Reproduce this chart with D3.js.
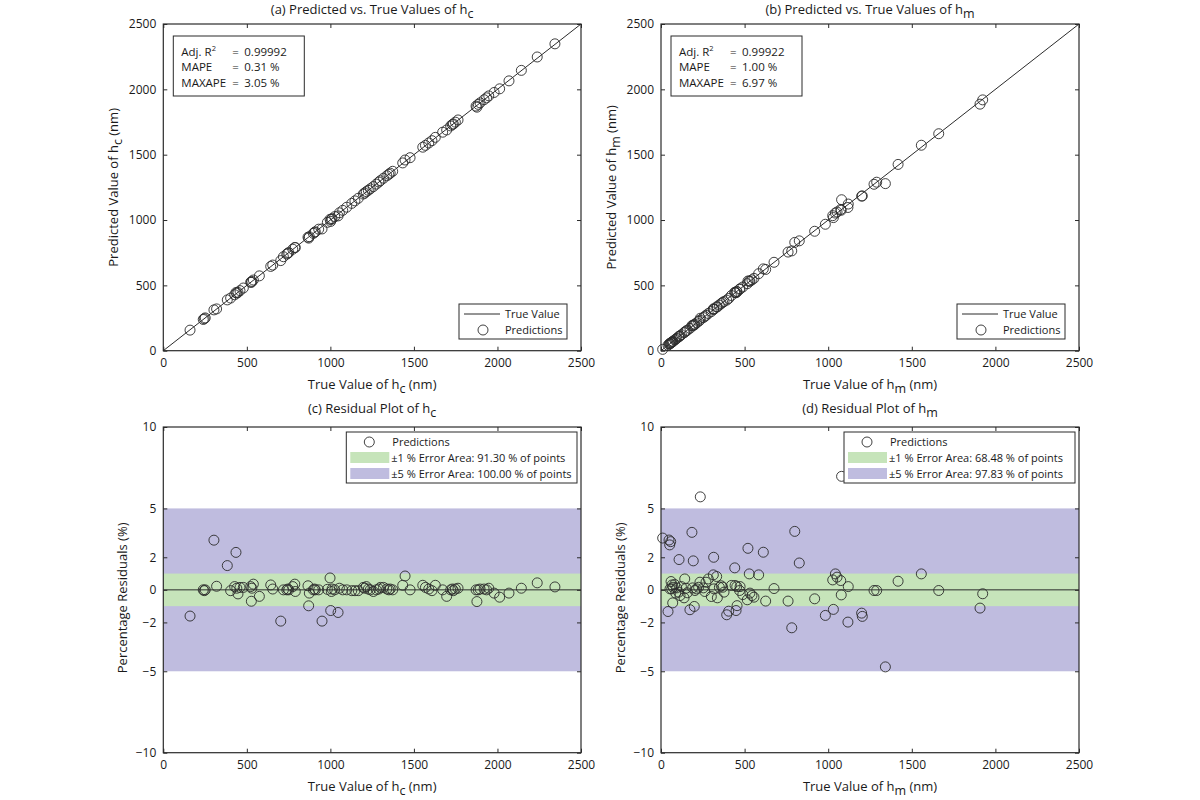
<!DOCTYPE html>
<html><head><meta charset="utf-8">
<script src="https://cdn.jsdelivr.net/npm/d3@7"></script>
<style>
body{margin:0;background:#fff}
text{font-family:'Open Sans',sans-serif;fill:#1a1a1a}
</style>
</head><body>
<svg id="chart" width="1200" height="800"></svg>
<script>
// ---------------- data ----------------
const axisTicks = [0, 500, 1000, 1500, 2000, 2500];
const residualTicks = [-10, -5, -2, 0, 2, 5, 10];

const trueHc = [160,239,245,251,303,319,383,403,427,435,440,447,459,479,523,527,530,539,575,643,655,703,719,739,745,751,775,787,790,866,870,874,898,905,910,930,950,982,998,1002,1006,1010,1026,1046,1054,1074,1098,1128,1147,1167,1197,1205,1215,1227,1239,1257,1275,1290,1299,1318,1338,1350,1358,1373,1433,1447,1477,1553,1569,1589,1608,1628,1672,1696,1720,1730,1736,1748,1764,1872,1877,1885,1896,1920,1935,1948,1980,2013,2069,2143,2238,2344];
const resHc = [-1.61,0.0,-0.05,0.0,3.05,0.22,1.49,-0.05,0.2,2.3,0.1,-0.25,0.15,0.15,0.2,-0.7,0.1,0.35,-0.4,0.3,0.05,-1.92,0.0,0.0,0.05,0.0,0.2,0.35,-0.1,0.25,-0.98,-0.2,0.0,0.05,0.0,0.0,-1.92,0.03,0.73,-1.27,-0.1,0.05,0.0,-1.39,0.1,0.0,0.0,-0.05,-0.05,-0.05,0.15,0.1,0.2,0.05,0.0,-0.1,0.0,0.05,0.15,0.15,0.05,0.0,0.05,0.0,0.28,0.85,0.0,0.28,0.15,0.05,-0.05,0.28,0.0,-0.4,0.0,0.05,-0.05,0.05,0.1,0.0,-0.72,0.0,0.05,0.05,0.0,0.1,-0.2,-0.45,-0.2,0.1,0.43,0.18];

const trueHm = [10,42,48,52,54,58,60,64,66,70,72,82,88,94,106,108,114,122,138,142,150,157,173,185,189,193,199,203,213,225,233,235,253,262,269,283,301,313,315,317,333,337,349,360,369,377,393,405,421,441,443,449,453,455,470,473,489,516,520,528,532,544,556,584,612,626,676,760,782,800,827,919,983,1027,1031,1043,1053,1075,1078,1080,1118,1120,1200,1204,1274,1290,1342,1418,1557,1661,1908,1924];
const resHm = [3.18,-1.33,3.06,2.76,0.06,2.96,0.51,0.06,0.3,-0.8,0.16,0.33,-0.2,0.12,-0.14,1.86,-0.35,0.2,-0.49,0.67,0.1,-0.18,-1.22,3.53,0.12,1.78,-1.02,-0.04,0.06,0.16,0.47,5.71,0.12,-0.1,0.47,0.67,-0.41,0.92,2.0,0.06,0.82,-0.49,0.16,0.25,0.16,-0.14,-1.53,-1.31,0.27,1.35,0.27,-1.27,0.2,-0.97,-0.04,0.2,-0.29,-0.61,2.55,0.98,-0.2,-0.35,-0.45,0.92,2.31,-0.69,0.08,-0.69,-2.33,3.59,1.65,-0.55,-1.57,0.61,-1.2,0.98,0.78,0.57,-0.31,6.97,-1.98,0.2,-1.43,-1.63,-0.04,-0.04,-4.73,0.53,0.98,-0.04,-1.12,-0.24];

const statLabels = ["Adj. R", "MAPE", "MAXAPE"];
const statsHc = ["0.99992", "0.31 %", "3.05 %"];
const statsHm = ["0.99922", "1.00 %", "6.97 %"];
const bandLabelsHc = ["\u00b11 % Error Area: 91.30 % of points", "\u00b15 % Error Area: 100.00 % of points"];
const bandLabelsHm = ["\u00b11 % Error Area: 68.48 % of points", "\u00b15 % Error Area: 97.83 % of points"];

// ---------------- drawing ----------------
const svg = d3.select("#chart");
const INK = "#2b2b2b";
const GREEN = "#c6e4ba";
const PURPLE = "#bfbcdf";

function subText(g, x, y, main, sub, rest, opts) {
  const t = g.append("text").attr("x", x).attr("y", y)
    .attr("text-anchor", opts.anchor || "middle")
    .style("font-size", opts.size + "px");
  if (opts.rotate) t.attr("transform", `rotate(-90,${x},${y})`);
  t.append("tspan").text(main);
  t.append("tspan").attr("dy", 4).style("font-size", (opts.size - 0.5) + "px").text(sub);
  t.append("tspan").attr("dy", -4).text(rest);
  return t;
}

function drawAxes(g, x, y, p, yTicks) {
  const fmt = d3.format("d");
  const bx = g.append("g").attr("transform", `translate(0,${p.b})`)
    .call(d3.axisBottom(x).tickValues(axisTicks).tickSizeInner(-4).tickSizeOuter(0).tickPadding(8).tickFormat(fmt));
  const tx = g.append("g").attr("transform", `translate(0,${p.t})`)
    .call(d3.axisTop(x).tickValues(axisTicks).tickSizeInner(-4).tickSizeOuter(0).tickFormat(""));
  const ly = g.append("g").attr("transform", `translate(${p.l},0)`)
    .call(d3.axisLeft(y).tickValues(yTicks).tickSizeInner(-4).tickSizeOuter(0).tickPadding(7).tickFormat(fmt));
  const ry = g.append("g").attr("transform", `translate(${p.r},0)`)
    .call(d3.axisRight(y).tickValues(yTicks).tickSizeInner(-4).tickSizeOuter(0).tickFormat(""));
  [bx, tx, ly, ry].forEach(a => {
    a.select(".domain").remove();
    a.selectAll(".tick line").attr("stroke", INK).attr("stroke-width", 1);
    a.selectAll(".tick text").style("font-size", "12px").style("font-family", "'Open Sans',sans-serif").attr("fill", "#1a1a1a");
  });
  g.append("rect").attr("x", p.l).attr("y", p.t).attr("width", p.r - p.l).attr("height", p.b - p.t)
    .attr("fill", "none").attr("stroke", INK).attr("stroke-width", 1.2);
}

function circles(g, xs, ys, x, y) {
  g.append("g").selectAll("circle").data(xs).join("circle")
    .attr("cx", d => x(d)).attr("cy", (d, i) => y(ys[i])).attr("r", 5)
    .attr("fill", "none").attr("stroke", INK).attr("stroke-width", 0.9);
}

function scatterPanel(p, trueV, resV, stats, letter, sub) {
  const g = svg.append("g");
  const x = d3.scaleLinear().domain([0, 2500]).range([p.l, p.r]);
  const y = d3.scaleLinear().domain([0, 2500]).range([p.b, p.t]);
  const pred = trueV.map((t, i) => t * (1 + resV[i] / 100));
  g.append("line").attr("x1", x(0)).attr("y1", y(0)).attr("x2", x(2500)).attr("y2", y(2500))
    .attr("stroke", INK).attr("stroke-width", 1);
  circles(g, trueV, pred, x, y);
  drawAxes(g, x, y, p, axisTicks);
  subText(g, (p.l + p.r) / 2, 14, `(${letter}) Predicted vs. True Values of h`, sub, "", {size: 13});
  subText(g, (p.l + p.r) / 2, 389, "True Value of h", sub, " (nm)", {size: 13});
  subText(g, p.l - 45, (p.t + p.b) / 2, "Predicted Value of h", sub, " (nm)", {size: 13, rotate: true});
  // stats box
  const sb = g.append("g");
  sb.append("rect").attr("x", p.l + 10).attr("y", 36).attr("width", 131).attr("height", 60)
    .attr("fill", "#fff").attr("stroke", INK).attr("stroke-width", 1);
  statLabels.forEach((lab, i) => {
    const yy = 55.5 + i * 15.8;
    const t = sb.append("text").attr("x", p.l + 18).attr("y", yy).style("font-size", "11.5px").text(lab);
    if (i === 0) t.append("tspan").attr("dy", -5).style("font-size", "7.5px").text("2");
    sb.append("text").attr("x", p.l + 69).attr("y", yy).style("font-size", "11.5px").text("=");
    sb.append("text").attr("x", p.l + 81).attr("y", yy).style("font-size", "11.5px").text(stats[i]);
  });
  // legend
  const lg = g.append("g");
  const lx = p.r - 122, ly = 304;
  lg.append("rect").attr("x", lx).attr("y", ly).attr("width", 108).attr("height", 35)
    .attr("fill", "#fff").attr("stroke", INK).attr("stroke-width", 1);
  lg.append("line").attr("x1", lx + 5).attr("x2", lx + 41).attr("y1", ly + 10).attr("y2", ly + 10)
    .attr("stroke", INK).attr("stroke-width", 1);
  lg.append("text").attr("x", lx + 46).attr("y", ly + 14).style("font-size", "11px").text("True Value");
  lg.append("circle").attr("cx", lx + 24).attr("cy", ly + 26).attr("r", 5)
    .attr("fill", "none").attr("stroke", INK).attr("stroke-width", 0.9);
  lg.append("text").attr("x", lx + 46).attr("y", ly + 30).style("font-size", "11px").text("Predictions");
}

function residualPanel(p, trueV, resV, bandLabels, letter, sub) {
  const g = svg.append("g");
  const x = d3.scaleLinear().domain([0, 2500]).range([p.l, p.r]);
  const y = d3.scaleLinear().domain([-10, 10]).range([p.b, p.t]);
  g.append("rect").attr("x", p.l).attr("width", p.r - p.l).attr("y", y(5)).attr("height", y(-5) - y(5)).attr("fill", PURPLE);
  g.append("rect").attr("x", p.l).attr("width", p.r - p.l).attr("y", y(1)).attr("height", y(-1) - y(1)).attr("fill", GREEN);
  g.append("line").attr("x1", x(0)).attr("x2", x(2500)).attr("y1", y(0)).attr("y2", y(0))
    .attr("stroke", INK).attr("stroke-width", 1);
  circles(g, trueV, resV, x, y);
  drawAxes(g, x, y, p, residualTicks);
  subText(g, (p.l + p.r) / 2, 413, `(${letter})  Residual Plot of h`, sub, "", {size: 13});
  subText(g, (p.l + p.r) / 2, 791, "True Value of h", sub, " (nm)", {size: 13});
  const cy = (p.t + p.b) / 2 + 8;
  g.append("text").attr("x", p.l - 36).attr("y", cy).attr("text-anchor", "middle")
    .attr("transform", `rotate(-90,${p.l - 36},${cy})`).style("font-size", "13px")
    .text("Percentage Residuals (%)");
  // legend
  const lg = g.append("g");
  const lx = p.l + 183, ly = 432, w = p.r - 4 - lx;
  lg.append("rect").attr("x", lx).attr("y", ly).attr("width", w).attr("height", 51)
    .attr("fill", "#fff").attr("stroke", INK).attr("stroke-width", 1);
  lg.append("circle").attr("cx", lx + 23).attr("cy", ly + 10).attr("r", 5)
    .attr("fill", "none").attr("stroke", INK).attr("stroke-width", 0.9);
  lg.append("text").attr("x", lx + 46).attr("y", ly + 14).style("font-size", "11px").text("Predictions");
  lg.append("rect").attr("x", lx + 4).attr("y", ly + 20).attr("width", 39).attr("height", 11).attr("fill", GREEN);
  lg.append("rect").attr("x", lx + 4).attr("y", ly + 36).attr("width", 39).attr("height", 11).attr("fill", PURPLE);
  bandLabels.forEach((t, i) => {
    lg.append("text").attr("x", lx + 45).attr("y", ly + 30 + i * 15.5).style("font-size", "11px").text(t);
  });
}

const PA = {l: 163.3, r: 581, t: 24, b: 350.7};
const PB = {l: 661, r: 1079, t: 24, b: 350.7};
const PC = {l: 163.3, r: 581, t: 427, b: 752.7};
const PD = {l: 661, r: 1079, t: 427, b: 752.7};

scatterPanel(PA, trueHc, resHc, statsHc, "a", "c");
scatterPanel(PB, trueHm, resHm, statsHm, "b", "m");
residualPanel(PC, trueHc, resHc, bandLabelsHc, "c", "c");
residualPanel(PD, trueHm, resHm, bandLabelsHm, "d", "m");
</script>
</body></html>
